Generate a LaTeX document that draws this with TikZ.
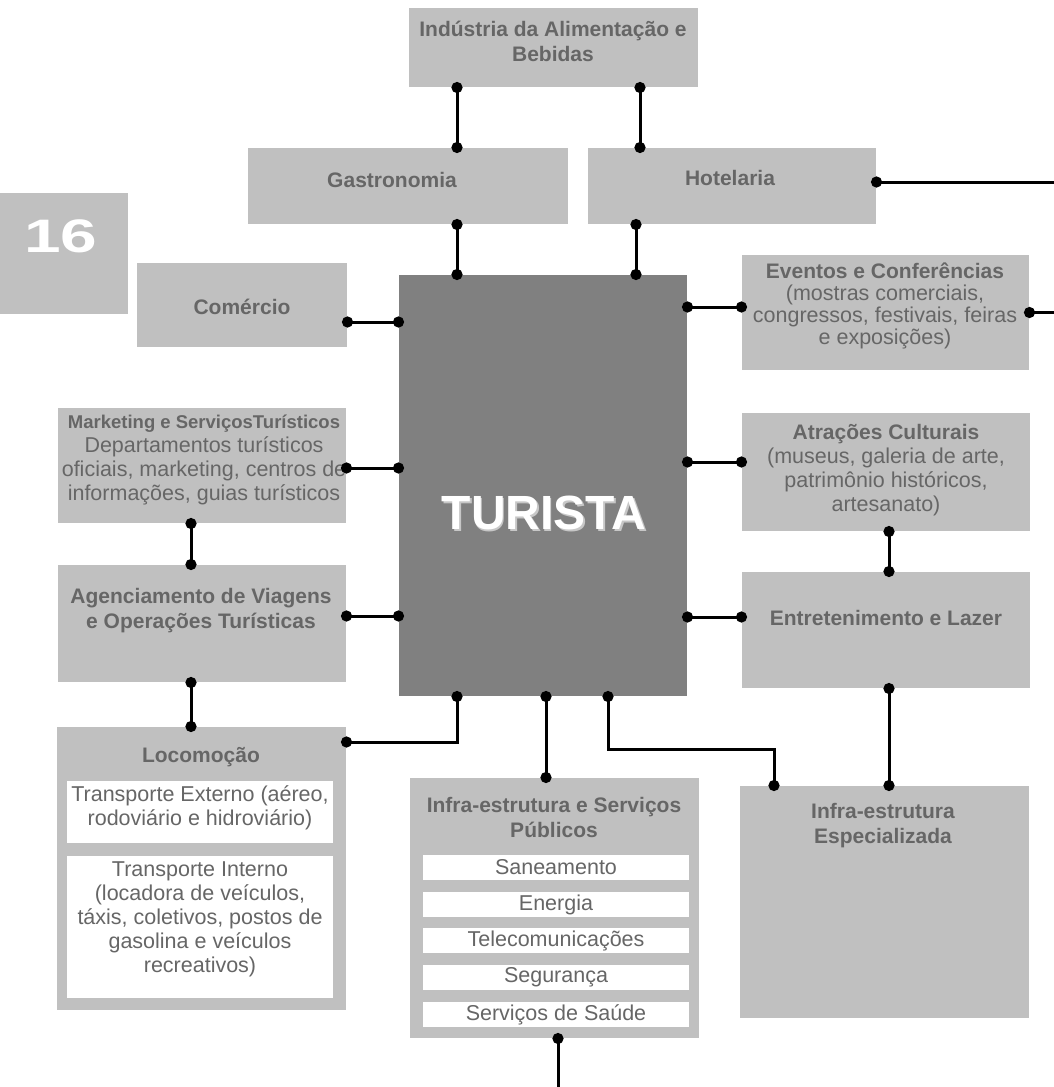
\documentclass[tikz,border=0pt]{standalone}
\usepackage{fontspec}
\setmainfont{Liberation Sans}
\usetikzlibrary{arrows.meta,positioning}
\definecolor{boxgray}{HTML}{C0C0C0}
\definecolor{coregray}{HTML}{808080}
\definecolor{inkgray}{HTML}{666666}
\tikzset{
  tubox/.style={
    rectangle, fill=boxgray, inner sep=0pt, outer sep=0pt, anchor=north west
  },
  tuwhite/.style={tubox, fill=white},
  tucore/.style={tubox, fill=coregray},
  tutitle/.style={font=\bfseries\fontsize{21}{25}\selectfont, text=inkgray, align=center, inner sep=0pt},
  tutext/.style={font=\fontsize{21.5}{24}\selectfont, text=inkgray, align=center, inner sep=0pt},
  tuwire/.style={{Circle[length=11pt]}-{Circle[length=11pt]}, line width=3pt, draw=black,
    shorten <=-5pt, shorten >=-5pt},
  tuwireout/.style={{Circle[length=11pt]}-, line width=3pt, draw=black, shorten <=-5pt},
}

\begin{document}
\begin{tikzpicture}[x=1pt, y=-1pt]
  \useasboundingbox (0,0) rectangle (1054,1087);
  % boxes
  \node (ali) [tubox, minimum width=289pt, minimum height=79pt] at (409,8) {};
  \node (gas) [tubox, minimum width=320pt, minimum height=76pt] at (248,148) {};
  \node (hot) [tubox, minimum width=288pt, minimum height=76pt] at (588,148) {};
  \node (n16) [tubox, minimum width=128pt, minimum height=121pt] at (0,193) {};
  \node (com) [tubox, minimum width=210pt, minimum height=84pt] at (137,263) {};
  \node (tur) [tucore, minimum width=288pt, minimum height=421pt] at (399,275) {};
  \node (eve) [tubox, minimum width=287pt, minimum height=115pt] at (742,255) {};
  \node (mkt) [tubox, minimum width=288pt, minimum height=115pt] at (58,408) {};
  \node (atr) [tubox, minimum width=288pt, minimum height=118pt] at (742,413) {};
  \node (age) [tubox, minimum width=288pt, minimum height=117pt] at (58,565) {};
  \node (ent) [tubox, minimum width=288pt, minimum height=116pt] at (742,572) {};
  \node (loc) [tubox, minimum width=289pt, minimum height=283pt] at (57,727) {};
  \node (isp) [tubox, minimum width=289pt, minimum height=260pt] at (410,778) {};
  \node (ies) [tubox, minimum width=289pt, minimum height=232pt] at (740,786) {};
  \node (locext) [tuwhite, minimum width=266pt, minimum height=62pt] at (67,781) {};
  \node (locint) [tuwhite, minimum width=266pt, minimum height=142pt] at (67,856) {};
  \node (san) [tuwhite, tutext, minimum width=266pt, minimum height=25pt] at (423,855) {Saneamento};
  \node (ene) [tuwhite, tutext, minimum width=266pt, minimum height=25pt] at (423,892) {Energia};
  \node (tel) [tuwhite, tutext, minimum width=266pt, minimum height=25pt] at (423,928) {Telecomunicações};
  \node (seg) [tuwhite, tutext, minimum width=266pt, minimum height=25pt] at (423,965) {Segurança};
  \node (sau) [tuwhite, tutext, minimum width=266pt, minimum height=25pt] at (423,1002) {Serviços de Saúde};

  % texts
  \node (ali-t) [tutitle] at (553,41) {Indústria da Alimentação e\\Bebidas};
  \node (gas-t) [tutitle] at (392,180) {Gastronomia};
  \node (hot-t) [tutitle] at (730,178) {Hotelaria};
  \node (n16-t) [font=\bfseries\fontsize{47}{47}\selectfont, text=white, inner sep=0pt] at (61,236) {\scalebox{1.4}[1]{16}};
  \node (com-t) [tutitle] at (242,307) {Comércio};
  \node (tur-s) [font=\bfseries\fontsize{48}{48}\selectfont, text=black!22, inner sep=0pt] at (545.5,514.5) {TURISTA};
  \node (tur-t) [font=\bfseries\fontsize{48}{48}\selectfont, text=white, inner sep=0pt] at (544,513) {TURISTA};
  \node (mkt-t) [tutext] at (204,460) {{\bfseries\fontsize{18.5}{24}\selectfont Marketing e ServiçosTurísticos}\\Departamentos turísticos\\oficiais, marketing, centros de\\informações, guias turísticos};
  \node (age-t) [tutitle] at (201,611) {Agenciamento de Viagens\\e Operações Turísticas};
  \node (eve-t) [tutext, font=\fontsize{21.5}{22}\selectfont] at (885,306) {{\bfseries\fontsize{21}{22}\selectfont Eventos e Conferências}\\(mostras comerciais,\\congressos, festivais, feiras\\e exposições)};
  \node (atr-t) [tutext] at (886,470) {{\bfseries\fontsize{21}{24}\selectfont Atrações Culturais}\\(museus, galeria de arte,\\patrimônio históricos,\\artesanato)};
  \node (ent-t) [tutitle] at (886,618) {Entretenimento e Lazer};
  \node (loc-t) [tutitle] at (201,757) {Locomoção};
  \node (locext-t) [tutext] at (200,807.5) {Transporte Externo (aéreo,\\rodoviário e hidroviário)};
  \node (locint-t) [tutext] at (200,919.5) {Transporte Interno\\(locadora de veículos,\\táxis, coletivos, postos de\\gasolina e veículos\\recreativos)};
  \node (isp-t) [tutitle] at (554,817.5) {Infra-estrutura e Serviços\\Públicos};
  \node (ies-t) [tutitle] at (883,825.5) {Infra-estrutura\\Especializada};

  % connectors
  \coordinate (hotout) at (1054,182);
  \coordinate (eveout) at (1054,312.5);
  \coordinate (ispout) at (558,1087);
  \draw[tuwire] ([xshift=-96.5pt]ali.south) -- ([xshift=49pt]gas.north);
  \draw[tuwire] ([xshift=86.5pt]ali.south) -- ([xshift=-92pt]hot.north);
  \draw[tuwire] ([xshift=49pt]gas.south) -- ([xshift=-86pt]tur.north);
  \draw[tuwire] ([xshift=-96pt]hot.south) -- ([xshift=93pt]tur.north);
  \draw[tuwireout] ([yshift=4pt]hot.east) -- (hotout);
  \draw[tuwire] ([yshift=-17pt]com.east) -- ([yshift=163.5pt]tur.west);
  \draw[tuwire] ([yshift=-2.5pt]mkt.east) -- ([yshift=17.5pt]tur.west);
  \draw[tuwire] ([yshift=7.5pt]age.east) -- ([yshift=-130.5pt]tur.west);
  \draw[tuwire] ([xshift=-11pt]mkt.south) -- ([xshift=-11pt]age.north);
  \draw[tuwire] ([xshift=-11pt]age.south) -- ([xshift=-10.5pt]loc.north);
  \draw[tuwire] ([yshift=-15pt]loc.north east) -| ([xshift=-86pt]tur.south);
  \draw[tuwire] ([xshift=3pt]tur.south) -- ([xshift=-8.5pt]isp.north);
  \draw[tuwire] ([xshift=65pt]tur.south) -- ++(0,53) -| ([xshift=-110.5pt]ies.north);
  \draw[tuwire] ([yshift=5.5pt]eve.west) -- ([yshift=178.5pt]tur.east);
  \draw[tuwire] ([yshift=10pt]atr.west) -- ([yshift=23.5pt]tur.east);
  \draw[tuwire] ([yshift=13pt]ent.west) -- ([yshift=-131.5pt]tur.east);
  \draw[tuwire] ([xshift=3pt]atr.south) -- ([xshift=3pt]ent.north);
  \draw[tuwire] ([xshift=3pt]ent.south) -- ([xshift=4.5pt]ies.north);
  \draw[tuwireout] (eve.east) -- (eveout);
  \draw[tuwireout] ([xshift=3.5pt]isp.south) -- (ispout);
\end{tikzpicture}
\end{document}
